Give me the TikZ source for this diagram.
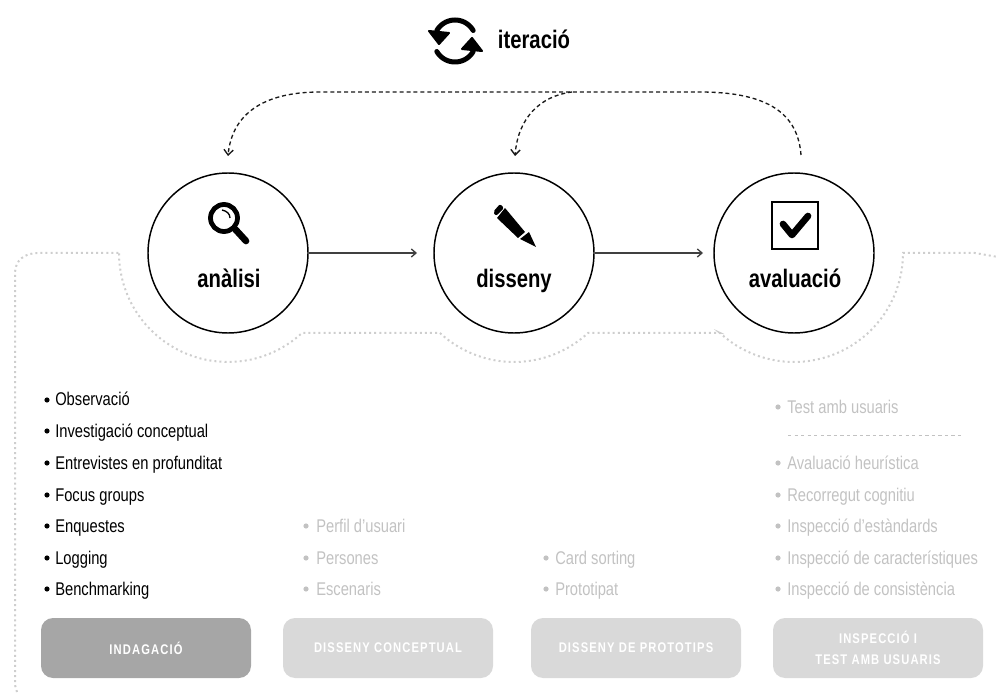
\documentclass[tikz,border=0pt]{standalone}
\usepackage{fontspec}
\setmainfont[FakeStretch=0.8]{Liberation Sans}
\usetikzlibrary{arrows.meta}
\definecolor{greytxt}{HTML}{C2C2C2}
\definecolor{dotgrey}{HTML}{CECECE}
\definecolor{boxdark}{HTML}{A6A6A6}
\definecolor{boxlight}{HTML}{D9D9D9}
\tikzset{
  x=0.75pt,y=-0.75pt,
  phase/.style={circle,draw=black,line width=1.1pt,minimum size=120pt,inner sep=0pt,fill=white},
  phasetext/.style={font=\fontsize{19pt}{22pt}\selectfont\bfseries,inner sep=0pt,anchor=base},
  flow/.style={draw=black!75,line width=1pt,-{Straight Barb[length=3.5pt,width=6pt]}},
  loop/.style={draw=black!90,line width=1pt,dash pattern=on 3pt off 2.2pt,-{Straight Barb[length=4pt,width=7pt]}},
  outline/.style={draw=dotgrey,line width=1.5pt,dash pattern=on 1.5pt off 2.3pt},
  item/.style={font=\fontsize{13.8pt}{16pt}\selectfont,anchor=base west,inner sep=0pt,text=black},
  gitem/.style={item,text=greytxt},
  stagebox/.style={rounded corners=9pt,minimum width=157.5pt,minimum height=45pt,inner sep=0pt,text=white,align=center,
    font=\fontsize{10.5pt}{15.5pt}\selectfont\bfseries\addfontfeatures{LetterSpace=8}},
}
\begin{document}
\begin{tikzpicture}
\useasboundingbox (0,0) rectangle (1000,695);
% outline
\draw[outline] (17,692) -- (15,685) -- (15,273) .. controls (15,260) and (25,253) .. (38,253) -- (120,253)
  -- plot[domain=180:47.2,samples=40] ({228+109*cos(\x)},{253+109*sin(\x)})
  -- (440,333)
  -- plot[domain=132.8:47.2,samples=30] ({514+109*cos(\x)},{253+109*sin(\x)})
  -- (720,333)
  -- plot[domain=132.8:0,samples=40] ({794+109*cos(\x)},{253+109*sin(\x)})
  -- (975,253) -- (998,257);
% phases
\node[phase] (an) at (228,253) {};
\node[phase] (di) at (514,253) {};
\node[phase] (av) at (794,253) {};
\node[phasetext] (ant) at (229,288) {anàlisi};
\node[phasetext] (dit) at (514,288) {disseny};
\node[phasetext] (avt) at (795,288) {avaluació};
\coordinate (anend) at (417,253);
\coordinate (diend) at (703,253);
\draw[flow] (an.east) -- (anend);
\draw[flow] (di.east) -- (diend);
% iteration loops
\coordinate (avtop) at (801,155);
\coordinate (antop) at (228,156);
\coordinate (ditop) at (515,156);
\draw[loop] (avtop) .. controls (798,115) and (770,92) .. (700,92) -- (320,92) .. controls (262,92) and (232,115) .. (antop);
\draw[loop] (572,92) .. controls (540,96) and (518,118) .. (ditop);
% iteration icon
\node[phasetext] (it) at (534,49) {iteració};
\draw[line width=3.75pt,line cap=round] plot[domain=-30:-150,samples=25] ({455+21*cos(\x)},{41+21*sin(\x)});
\filldraw[line width=1.5pt,line join=round] (429,31) -- (439,44) -- (449,33) -- cycle;
\draw[line width=3.75pt,line cap=round] plot[domain=150:30,samples=25] ({455+21*cos(\x)},{41+21*sin(\x)});
\filldraw[line width=1.5pt,line join=round] (462,49) -- (472,38) -- (482,51) -- cycle;
% magnifier
\draw[line width=3.6pt] (224,218) circle (13.5);
\draw[line width=1pt] (222,210) .. controls (227,211) and (230,214) .. (230,218);
\draw[line width=5pt,line cap=round] (235,229) -- (246,241);
% pencil
\fill[rounded corners=1.5pt] (493,212) -- (500,204) -- (504,208) -- (496,216) -- cycle;
\fill (497,218) -- (505,208) -- (525,232) -- (518,238) -- cycle;
\fill (520,239) -- (529,232) -- (536,247) -- cycle;
% check box
\draw[line width=1.5pt] (772,202) rectangle (818,249);
\draw[line width=5pt,line cap=round,line join=round] (783,224) -- (792,235) -- (808,216);
% lists
\foreach \yy/\txt/\nm in {400/Observació/a,431/Investigació conceptual/b,463/Entrevistes en profunditat/c,495/Focus groups/d,526/Enquestes/e,558/Logging/f,589/Benchmarking/g}{
  \fill (47,\yy) circle (2.6);
  \node[item] (l\nm) at (55,\yy+6) {\txt};
}
\foreach \yy/\txt/\nm in {526/Perfil d'usuari/a,558/Persones/b,589/Escenaris/c}{
  \fill[greytxt] (306,\yy) circle (2.6);
  \node[gitem] (m\nm) at (316,\yy+6) {\txt};
}
\foreach \yy/\txt/\nm in {558/Card sorting/a,589/Prototipat/b}{
  \fill[greytxt] (546,\yy) circle (2.6);
  \node[gitem] (n\nm) at (555,\yy+6) {\txt};
}
\foreach \yy/\txt/\nm in {407/Test amb usuaris/a,463/Avaluació heurística/b,495/Recorregut cognitiu/c,526/Inspecció d'estàndards/d,558/Inspecció de característiques/e,589/Inspecció de consistència/f}{
  \fill[greytxt] (778,\yy) circle (2.6);
  \node[gitem] (r\nm) at (787,\yy+6) {\txt};
}
\coordinate (sepa) at (788,435);
\coordinate (sepb) at (961,435);
\draw[draw=greytxt,line width=0.7pt,dash pattern=on 2.5pt off 2.4pt] (sepa) -- (sepb);
% boxes
\node[stagebox,fill=boxdark] (b1) at (146,648) {INDAGACIÓ};
\node[stagebox,fill=boxlight] (b2) at (388,648) {DISSENY CONCEPTUAL};
\node[stagebox,fill=boxlight] (b3) at (636,648) {DISSENY DE PROTOTIPS};
\node[stagebox,fill=boxlight] (b4) at (878,648) {INSPECCIÓ I\\TEST AMB USUARIS};
\end{tikzpicture}
\end{document}
